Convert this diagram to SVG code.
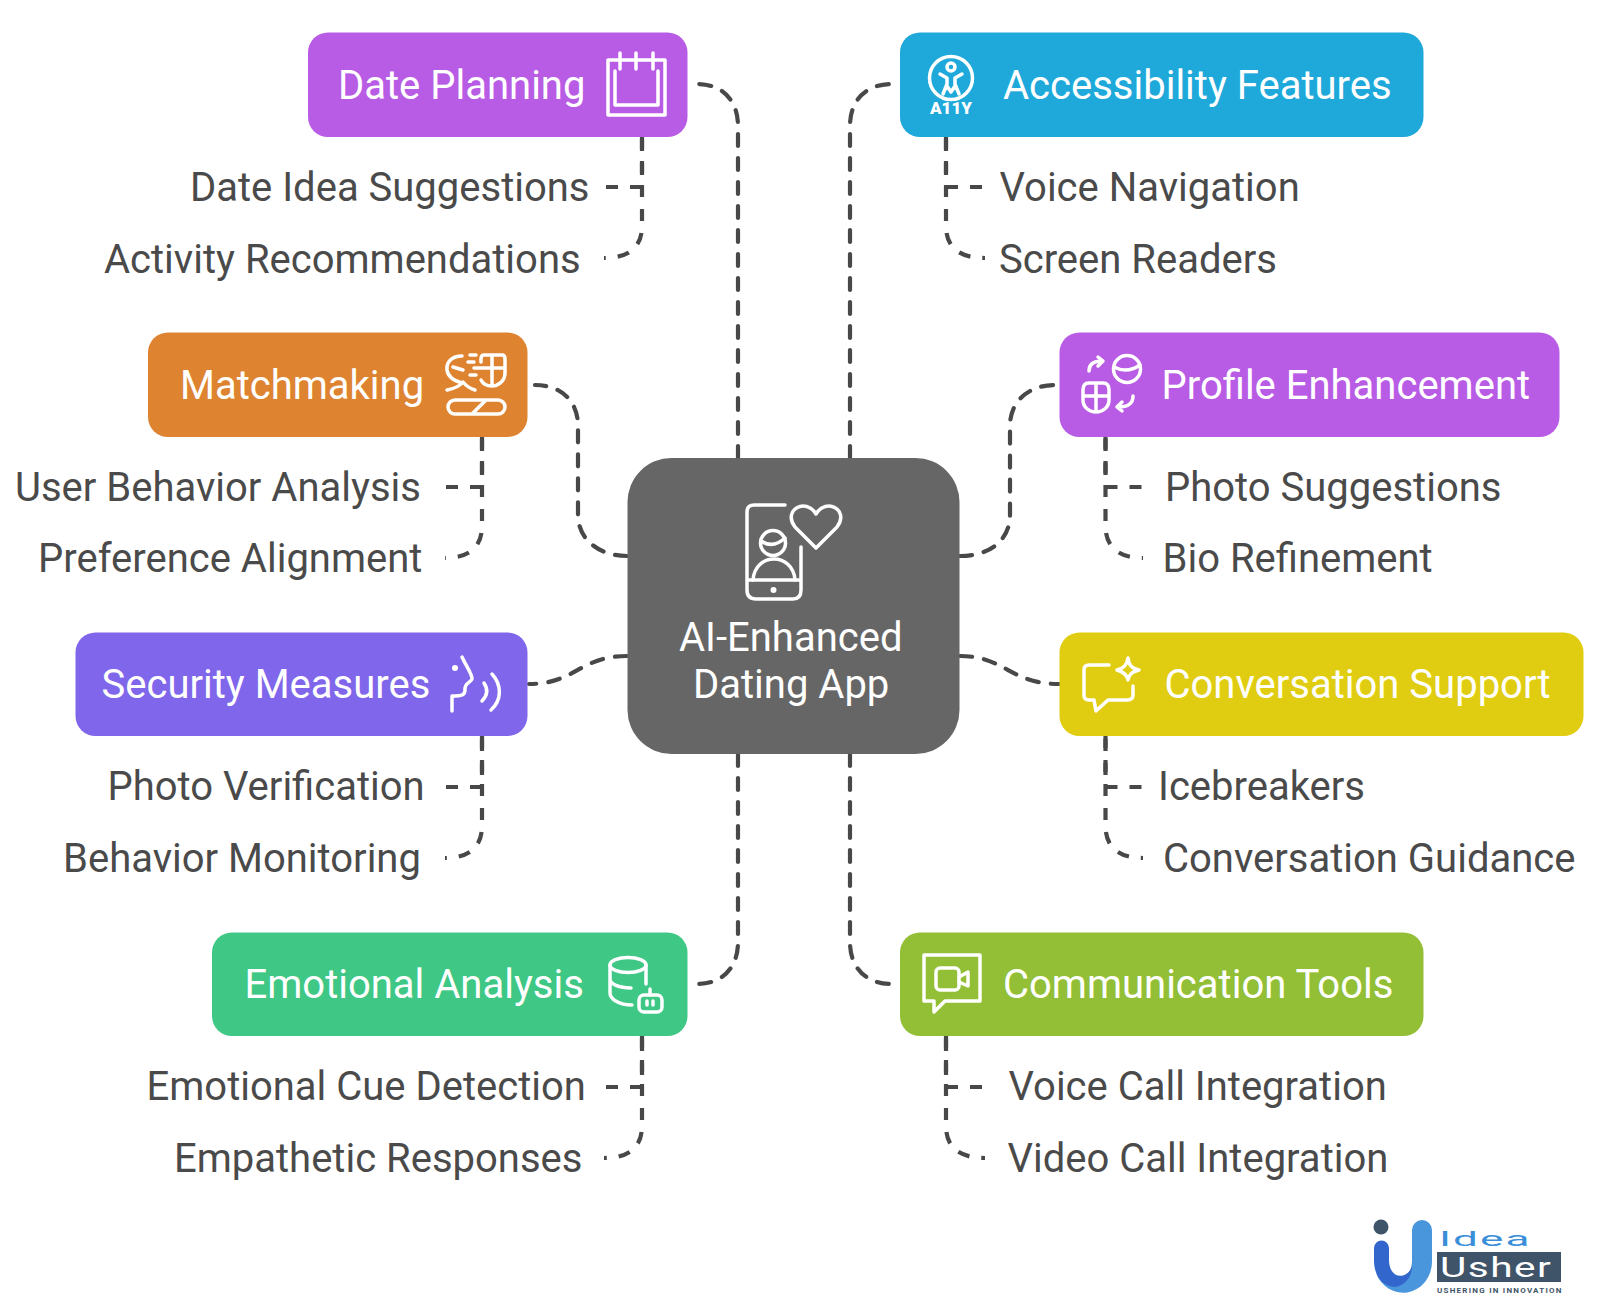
<svg xmlns="http://www.w3.org/2000/svg" width="1600" height="1306" viewBox="0 0 1600 1306">
<style>
text{font-family:Roboto,"Liberation Sans",sans-serif}
.h{font-size:40px;fill:#fff}
.s{font-size:40px;fill:#4a4a4a}
.c{fill:none;stroke:#484848;stroke-width:4.200;stroke-dasharray:12 12;stroke-linecap:round}
.i{fill:none;stroke:#fff;stroke-width:3.500;stroke-linecap:round;stroke-linejoin:round}
.sub{fill:none;stroke:#484848;stroke-width:4.200;stroke-dasharray:12 12}
</style>
<rect width="1600" height="1306" fill="#fff"/>
<g id="connectors">
<path class="c" d="M738 458V126C738 100 722 84 697 84"/>
<path class="c" d="M850 458V126C850 100 866 84 892 84"/>
<path class="c" d="M627 556C600 556 578 540 578 515V426C578 400 560 385 535 385"/>
<path class="c" d="M960 556C990 556 1010 540 1010 515V426C1010 400 1030 385 1055 385"/>
<path class="c" d="M627 656C580 656 575 684 529 684"/>
<path class="c" d="M960 656C1005 656 1010 684 1059 684"/>
<path class="c" d="M738 754V942C738 968 722 984 697 984"/>
<path class="c" d="M850 754V942C850 968 866 984 892 984"/>
<path class="sub" d="M606 187H642V137"/><path class="sub" d="M642 137V226C642 248 628 258 604 258"/>
<path class="sub" d="M982 187H946V137"/><path class="sub" d="M946 137V226C946 248 960 258 985 258"/>
<path class="sub" d="M446 487H482V437"/><path class="sub" d="M482 437V526C482 548 468 558 445 558"/>
<path class="sub" d="M1141.500 487H1105.500V437"/><path class="sub" d="M1105.500 437V526C1105.500 548 1120 558 1143 558"/>
<path class="sub" d="M446 787H482V736"/><path class="sub" d="M482 736V826C482 848 468 858 445 858"/>
<path class="sub" d="M1141.500 787H1105.500V736"/><path class="sub" d="M1105.500 736V826C1105.500 848 1120 858 1143 858"/>
<path class="sub" d="M606 1087H642V1036"/><path class="sub" d="M642 1036V1126C642 1148 628 1158 604 1158"/>
<path class="sub" d="M982 1087H946V1036"/><path class="sub" d="M946 1036V1126C946 1148 960 1158 985 1158"/>
</g>
<g id="center">
<rect x="627.500" y="458" width="332" height="296" rx="44" fill="#666"/>
<path class="i" d="M785 505H754Q747 505 747 512V590Q747 599 756 599H793Q801 599 801 590V547M747 580H801"/>
<circle class="i" cx="773" cy="543" r="12.500"/><path class="i" d="M761 541Q773 549 785 538"/>
<path class="i" d="M753 580C755 552 793 552 795 580"/>
<circle cx="773.500" cy="590" r="3" fill="#fff"/>
<path class="i" d="M816 548L795 527C782 510 806 497 816 514C826 497 850 510 837 527Z"/>
<text class="h" x="679" y="650.500">AI-Enhanced</text>
<text class="h" x="693" y="697.500">Dating App</text>
</g>
<g id="date-planning">
<rect x="308" y="32.500" width="379.500" height="104.500" rx="20" fill="#b85ce5"/>
<text class="h" x="338" y="99">Date Planning</text>
<path class="i" d="M620 60H608V115H665V60H653M615 71V105H658V71M620 53V69M636 53V69M653 53V69M620 60H653"/>
</g>
<g id="date-idea"><text class="s" x="190" y="201">Date Idea Suggestions</text></g>
<g id="activity"><text class="s" x="104" y="272.500">Activity Recommendations</text></g>
<g id="accessibility">
<rect x="900" y="32.500" width="523.500" height="104.500" rx="20" fill="#1ea9da"/>
<text class="h" x="1003" y="99">Accessibility Features</text>
<circle class="i" cx="951" cy="78" r="21.500" stroke-width="4"/><circle class="i" cx="951" cy="67" r="4"/>
<path class="i" d="M940 74L947 78V84L943 94M962 74L955 78V84L959 94M947 86L951 92L955 86"/>
<text x="951" y="114" text-anchor="middle" font-size="17" font-weight="900" fill="#fff">A11Y</text>
</g>
<g id="voice-nav"><text class="s" x="999.500" y="201">Voice Navigation</text></g>
<g id="screen-readers"><text class="s" x="999" y="272.500">Screen Readers</text></g>
<g id="matchmaking">
<rect x="148" y="332.500" width="379.500" height="104.500" rx="20" fill="#de8330"/>
<text class="h" x="180" y="399">Matchmaking</text>
<path class="i" d="M462 356C452 356 446 362 447 370C448 378 455 381 462 383M453 367L463 370M447 390Q458 388 463 382Q468 388 475 390"/>
<path class="i" d="M484 355H502Q505 355 505 359V373C505 382 497 386 492 386C487 386 483 384 481 380M484 355Q481 355 481 359V362M474 368H505M492 355V386M470 355H476M468 362H474M470 375H476"/>
<rect class="i" x="448" y="400" width="57" height="14" rx="7"/><path class="i" d="M473 413L485 401"/>
</g>
<g id="user-behavior"><text class="s" x="15" y="500.500">User Behavior Analysis</text></g>
<g id="preference"><text class="s" x="38" y="572">Preference Alignment</text></g>
<g id="profile">
<rect x="1059.500" y="332.500" width="500" height="104.500" rx="20" fill="#b85ce5"/>
<text class="h" x="1161.500" y="399">Profile Enhancement</text>
<circle class="i" cx="1127" cy="369" r="13.500"/><path class="i" d="M1114 367Q1127 374 1140 365"/>
<path class="i" d="M1083 390Q1083 383 1089 383H1103Q1109 383 1109 390V400C1109 408 1102 412 1096 412C1090 412 1083 408 1083 400ZM1083 396H1109M1096 383V411"/>
<path class="i" d="M1089 371C1089 364 1094 361 1102 361M1098 357L1103 361L1098 366M1133 396C1133 404 1128 407 1118 407M1122 402L1117 407L1122 411"/>
</g>
<g id="photo-sugg"><text class="s" x="1165" y="500.500">Photo Suggestions</text></g>
<g id="bio"><text class="s" x="1162.500" y="572">Bio Refinement</text></g>
<g id="security">
<rect x="75.500" y="632.500" width="452" height="103.500" rx="20" fill="#8066ea"/>
<text class="h" x="101.500" y="698">Security Measures</text>
<circle cx="455" cy="668" r="3" fill="#fff"/>
<path class="i" d="M462 657C465 664 471 672 472 678C473 682 464 682 465 690C465 695 462 696 452 696V711"/>
<path class="i" d="M484 683C488 689 488 695 482 701M492 674C502 685 502 700 491 710"/>
</g>
<g id="photo-verif"><text class="s" x="107.500" y="800">Photo Verification</text></g>
<g id="behavior-mon"><text class="s" x="63" y="872">Behavior Monitoring</text></g>
<g id="conversation">
<rect x="1059.500" y="632.500" width="524" height="103.500" rx="20" fill="#e0cd12"/>
<text class="h" x="1164.500" y="698">Conversation Support</text>
<path class="i" d="M1109 665H1089Q1084 665 1084 670V695Q1084 700 1089 700H1094L1096 711L1108 700H1127Q1133 700 1133 695V686"/>
<path class="i" d="M1128 658C1129 665 1131 668 1139 670C1131 672 1129 675 1128 680C1127 675 1124 672 1117 670C1124 668 1127 665 1128 658Z"/>
</g>
<g id="icebreakers"><text class="s" x="1158" y="800">Icebreakers</text></g>
<g id="conv-guidance"><text class="s" x="1163" y="872">Conversation Guidance</text></g>
<g id="emotional">
<rect x="212" y="932.500" width="475.500" height="103.500" rx="20" fill="#3ec785"/>
<text class="h" x="244.500" y="998">Emotional Analysis</text>
<ellipse class="i" cx="628" cy="965" rx="18" ry="7.500"/>
<path class="i" d="M610 965V993C610 999 619 1005 632 1005M610 979C610 984 619 988 631 988M646 965V984"/>
<rect class="i" x="639" y="995" width="23" height="17" rx="5"/><path class="i" d="M650 995V989M647 1001V1005M653 1001V1005"/>
</g>
<g id="emotional-cue"><text class="s" x="146.500" y="1100">Emotional Cue Detection</text></g>
<g id="empathetic"><text class="s" x="174" y="1172">Empathetic Responses</text></g>
<g id="communication">
<rect x="900" y="932.500" width="523.500" height="103.500" rx="20" fill="#93bf37"/>
<text class="h" x="1003" y="998">Communication Tools</text>
<path class="i" d="M924 955H980V1001H945L934 1012V1001H924Z"/>
<rect class="i" x="936" y="968" width="23" height="22" rx="4"/><path class="i" d="M959 977L968 972V986L959 982"/>
</g>
<g id="voice-call"><text class="s" x="1008.500" y="1100">Voice Call Integration</text></g>
<g id="video-call"><text class="s" x="1007.500" y="1172">Video Call Integration</text></g>
<g id="logo">
<path d="M1412 1230A10 10 0 0 1 1432 1230V1262A29 31 0 0 1 1376 1273C1385 1288 1412 1286 1412 1260Z" fill="#4a96dc"/>
<path d="M1374 1248A7.500 7.500 0 0 1 1389 1248V1260C1389 1280 1408 1280 1412 1266C1412 1280 1402 1286 1395 1287C1382 1286 1374 1276 1374 1260Z" fill="#3366cc"/>
<circle cx="1381" cy="1227" r="7.500" fill="#3f5468"/>
<text transform="translate(1439 1245.500) scale(2.100 1)" font-size="21" font-weight="400" fill="#3a8fd8" letter-spacing="1">Idea</text>
<rect x="1437" y="1252" width="124" height="30" fill="#3f5468"/>
<text transform="translate(1440 1277) scale(1.450 1)" font-size="28" fill="#fff" letter-spacing="1">Usher</text>
<text x="1437" y="1293" font-size="8" font-weight="700" fill="#3f5468" letter-spacing="1.250">USHERING IN INNOVATION</text>
</g>
</svg>
